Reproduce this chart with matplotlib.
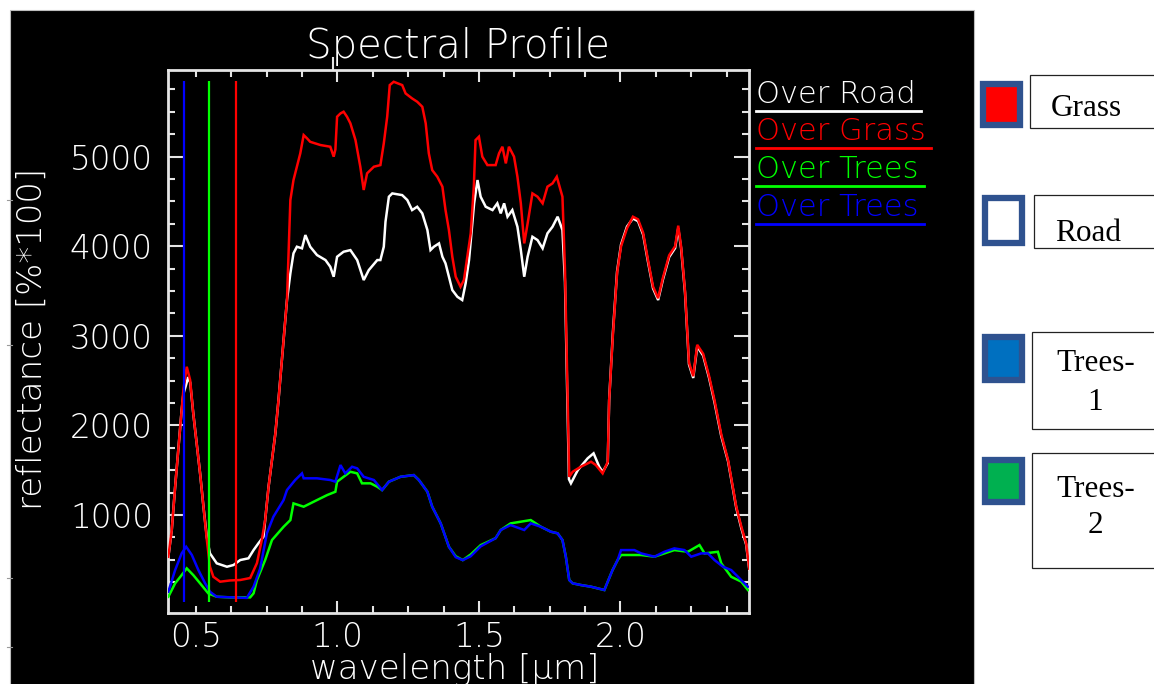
import matplotlib
matplotlib.use("Agg")
import matplotlib.pyplot as plt
from matplotlib.patches import Rectangle
from matplotlib.ticker import FixedLocator
from matplotlib.transforms import blended_transform_factory
import numpy as np

W, H, DPI = 1154, 684, 100

# ---------------- data (wavelength in um, reflectance in %*100) ----------------
road_wl = [0.403, 0.415, 0.427, 0.438, 0.450, 0.456, 0.468, 0.473, 0.480, 0.491, 0.503, 0.515,
           0.527, 0.539, 0.550, 0.574, 0.610, 0.633, 0.657, 0.686, 0.704, 0.721, 0.739, 0.757,
           0.769, 0.781, 0.792, 0.804, 0.816, 0.822, 0.834, 0.845, 0.857, 0.875, 0.887, 0.904,
           0.928, 0.958, 0.975, 0.987, 0.999, 1.022, 1.046, 1.070, 1.093, 1.111, 1.141, 1.152,
           1.164, 1.170, 1.182, 1.194, 1.229, 1.247, 1.264, 1.282, 1.300, 1.318, 1.329, 1.341,
           1.359, 1.371, 1.382, 1.394, 1.406, 1.424, 1.441, 1.453, 1.465, 1.483, 1.495, 1.506,
           1.524, 1.548, 1.565, 1.577, 1.589, 1.601, 1.618, 1.636, 1.648, 1.660, 1.672, 1.689,
           1.707, 1.725, 1.742, 1.760, 1.778, 1.795, 1.804, 1.818, 1.825, 1.849, 1.884, 1.905,
           1.925, 1.937, 1.955, 1.960, 1.973, 1.988, 2.002, 2.023, 2.044, 2.062, 2.080, 2.097,
           2.115, 2.133, 2.150, 2.172, 2.193, 2.204, 2.214, 2.228, 2.242, 2.257, 2.271, 2.292,
           2.313, 2.332, 2.356, 2.380, 2.409, 2.427, 2.444, 2.455]
road_val = [534, 832, 1316, 1725, 2172, 2350, 2480, 2540, 2480, 2135, 1800, 1468,
            1093, 750, 572, 461, 423, 442, 498, 517, 609, 684, 758, 1316,
            1614, 1912, 2283, 2730, 3176, 3400, 3698, 3921, 3995, 3977, 4125, 3995,
            3902, 3846, 3771, 3660, 3883, 3939, 3957, 3846, 3623, 3734, 3846, 3846,
            3995, 4274, 4553, 4590, 4571, 4516, 4404, 4441, 4367, 4181, 3958, 3995,
            4032, 3883, 3809, 3660, 3511, 3436, 3400, 3586, 3846, 4479, 4739, 4553,
            4441, 4404, 4479, 4367, 4479, 4330, 4404, 4218, 3958, 3660, 3883, 4106,
            4069, 3977, 4144, 4218, 4330, 4181, 3600, 1400, 1354, 1500, 1633, 1689,
            1539, 1480, 1580, 2283, 3030, 3720, 4020, 4220, 4310, 4280, 4130, 3830,
            3530, 3400, 3630, 3880, 3980, 4200, 3980, 3480, 2680, 2530, 2880, 2780,
            2530, 2260, 1880, 1600, 1080, 850, 670, 390]

grass_wl = [0.403, 0.415, 0.427, 0.438, 0.450, 0.456, 0.468, 0.480, 0.491, 0.503, 0.515, 0.527,
            0.539, 0.550, 0.562, 0.586, 0.621, 0.657, 0.692, 0.716, 0.733, 0.745, 0.757, 0.769,
            0.781, 0.792, 0.804, 0.816, 0.822, 0.834, 0.845, 0.857, 0.869, 0.881, 0.893, 0.904,
            0.940, 0.975, 0.987, 0.993, 0.999, 1.011, 1.022, 1.034, 1.046, 1.064, 1.081, 1.093,
            1.105, 1.129, 1.152, 1.164, 1.176, 1.185, 1.199, 1.229, 1.241, 1.264, 1.282, 1.300,
            1.312, 1.323, 1.335, 1.353, 1.371, 1.382, 1.394, 1.406, 1.418, 1.435, 1.447, 1.459,
            1.471, 1.482, 1.488, 1.500, 1.512, 1.530, 1.559, 1.571, 1.583, 1.595, 1.606, 1.624,
            1.636, 1.648, 1.660, 1.672, 1.689, 1.707, 1.725, 1.742, 1.760, 1.775, 1.795, 1.804,
            1.819, 1.831, 1.860, 1.896, 1.913, 1.937, 1.955, 1.960, 1.973, 1.988, 2.002, 2.023,
            2.044, 2.062, 2.080, 2.097, 2.115, 2.133, 2.150, 2.172, 2.193, 2.204, 2.214, 2.228,
            2.242, 2.257, 2.271, 2.292, 2.313, 2.332, 2.356, 2.380, 2.409, 2.427, 2.444, 2.455]
grass_val = [534, 832, 1316, 1725, 2172, 2395, 2655, 2507, 2135, 1800, 1468, 1093,
             721, 423, 311, 256, 270, 275, 297, 464, 721, 944, 1316, 1614,
             1912, 2283, 2730, 3176, 3400, 4516, 4739, 4888, 5037, 5241, 5204, 5166,
             5130, 5111, 5000, 5080, 5446, 5483, 5502, 5446, 5372, 5185, 4888, 4628,
             4814, 4888, 4906, 5149, 5446, 5799, 5836, 5799, 5706, 5650, 5613, 5557,
             5372, 5037, 4850, 4776, 4665, 4404, 4181, 3883, 3660, 3548, 3623, 3883,
             4144, 4665, 5185, 5223, 5000, 4906, 4906, 5037, 5111, 4925, 5111, 5000,
             4776, 4479, 4032, 4255, 4590, 4553, 4479, 4665, 4702, 4776, 4553, 3734,
             1427, 1483, 1539, 1595, 1558, 1465, 1595, 2283, 3000, 3700, 4000, 4200,
             4330, 4300, 4150, 3850, 3550, 3420, 3650, 3900, 4000, 4230, 4000, 3500,
             2700, 2550, 2900, 2800, 2550, 2283, 1900, 1614, 1093, 869, 684, 400]

trees2_wl = [0.403, 0.427, 0.450, 0.468, 0.491, 0.515, 0.544, 0.574, 0.621, 0.692, 0.704, 0.716,
             0.745, 0.769, 0.810, 0.834, 0.845, 0.881, 0.928, 0.964, 0.993, 0.999, 1.022, 1.046,
             1.070, 1.087, 1.117, 1.141, 1.158, 1.182, 1.223, 1.270, 1.288, 1.318, 1.335, 1.365,
             1.394, 1.418, 1.443, 1.471, 1.506, 1.559, 1.577, 1.612, 1.683, 1.719, 1.754, 1.778,
             1.795, 1.807, 1.819, 1.831, 1.860, 1.896, 1.943, 1.955, 1.972, 1.990, 2.002, 2.073,
             2.120, 2.190, 2.238, 2.279, 2.297, 2.344, 2.356, 2.391, 2.427, 2.450]
trees2_val = [88, 238, 330, 405, 330, 238, 126, 88, 81, 81, 126, 275,
              498, 721, 869, 944, 1130, 1093, 1167, 1223, 1260, 1372, 1427, 1483,
              1465, 1354, 1354, 1316, 1279, 1372, 1427, 1446, 1391, 1260, 1093, 907,
              646, 540, 497, 560, 664, 742, 833, 907, 944, 869, 814, 796,
              721, 535, 275, 238, 219, 200, 163, 256, 386, 498, 554, 554,
              535, 609, 590, 665, 572, 590, 461, 311, 256, 163]

trees1_wl = [0.403, 0.427, 0.450, 0.466, 0.486, 0.509, 0.533, 0.550, 0.574, 0.680, 0.704, 0.727,
             0.751, 0.774, 0.810, 0.822, 0.851, 0.875, 0.881, 0.928, 0.975, 0.993, 1.011, 1.028,
             1.052, 1.070, 1.093, 1.129, 1.158, 1.182, 1.223, 1.270, 1.288, 1.318, 1.335, 1.365,
             1.394, 1.418, 1.443, 1.471, 1.506, 1.559, 1.577, 1.612, 1.660, 1.683, 1.719, 1.754,
             1.778, 1.795, 1.807, 1.819, 1.831, 1.860, 1.896, 1.943, 1.955, 1.972, 1.990, 2.002,
             2.049, 2.073, 2.096, 2.120, 2.155, 2.190, 2.226, 2.250, 2.285, 2.309, 2.332, 2.362,
             2.391, 2.415, 2.450]
trees1_val = [144, 386, 572, 646, 554, 386, 238, 144, 88, 75, 200, 400,
              796, 981, 1167, 1279, 1391, 1465, 1410, 1410, 1391, 1372, 1558, 1465,
              1539, 1521, 1427, 1391, 1279, 1372, 1427, 1446, 1391, 1260, 1093, 907,
              646, 530, 497, 540, 650, 742, 833, 888, 833, 907, 869, 814,
              796, 721, 535, 275, 238, 219, 200, 163, 256, 386, 498, 609,
              609, 572, 554, 535, 590, 628, 609, 535, 572, 572, 498, 423,
              386, 311, 200]

marker_wl = [0.460, 0.547, 0.641]
marker_colors = ["#0000ff", "#00ff00", "#ff0000"]

legend_labels = ["Over Road", "Over Grass", "Over Trees", "Over Trees"]
series_colors = ["#ffffff", "#ff0000", "#00ff00", "#0000ff"]

x_major = [0.5, 1.0, 1.5, 2.0]
x_labels = ["0.5", "1.0", "1.5", "2.0"]
y_major = [1000, 2000, 3000, 4000, 5000]
y_labels = ["1000", "2000", "3000", "4000", "5000"]

panel_lines = [["Grass"], ["Road"], ["Trees-", "1"], ["Trees-", "2"]]
panel_fills = ["#ff0000", "#ffffff", "#0070c0", "#00b050"]

# ---------------- figure ----------------
FONT = ["DejaVu Sans"]
plt.rcParams["font.family"] = FONT
plt.rcParams["font.weight"] = 200
plt.rcParams["axes.titleweight"] = 200
plt.rcParams["axes.labelweight"] = 200

fig = plt.figure(figsize=(W / DPI, H / DPI), dpi=DPI, facecolor="white")

# background / decoration layer in pixel coordinates
bg = fig.add_axes([0, 0, 1, 1], zorder=0)
bg.set_xlim(0, W)
bg.set_ylim(H, 0)
bg.axis("off")
bg.add_patch(Rectangle((9.5, 9.5), 964.5, 690, facecolor="black",
                       edgecolor="#bdbdbd", lw=0.8))
for yy in (200, 345, 578, 647):
    bg.plot([7, 12], [yy, yy], color="#9a9a9a", lw=0.8)

# main plot
L, R, T, B = 167.5, 749.3, 69.5, 612.7
ax = fig.add_axes([L / W, 1 - B / H, (R - L) / W, (B - T) / H], zorder=2)
ax.set_facecolor("black")
ax.set_xlim(0.4, 2.455)
ax.set_ylim(-90, 5973)

fg = "#e4e4e4"
for s in ax.spines.values():
    s.set_color(fg)
    s.set_linewidth(2.0)

ax.xaxis.set_major_locator(FixedLocator(x_major))
ax.set_xticklabels(x_labels)
ax.xaxis.set_minor_locator(FixedLocator(np.arange(0.625, 2.45, 0.125)))
ax.yaxis.set_major_locator(FixedLocator(y_major))
ax.set_yticklabels(y_labels)
ax.yaxis.set_minor_locator(FixedLocator(np.arange(250, 5800, 250)))

ax.tick_params(which="both", direction="in", top=True, right=True,
               color=fg, width=1.5, labelcolor="white", labelsize=23.5)
ax.tick_params(axis="x", which="major", length=8.6, pad=6.0)
ax.tick_params(axis="y", which="major", length=10.5, pad=10.5)
ax.tick_params(which="minor", length=5)
for tk in ax.xaxis.get_major_ticks()[:1]:
    tk.tick1line.set_markersize(5)
    tk.tick2line.set_markersize(5)

series = [(road_wl, road_val), (grass_wl, grass_val),
          (trees2_wl, trees2_val), (trees1_wl, trees1_val)]
for i, ((wl, val), col) in enumerate(zip(series, series_colors)):
    ax.plot(wl, val, color=col, lw=1.8, zorder=3 + i, solid_joinstyle="miter")

all_vals = np.concatenate([np.asarray(v) for _, v in series])
ax.vlines(marker_wl, all_vals.min() - 40, all_vals.max() + 10, colors=marker_colors,
          lw=1.6, zorder=8)

ax.set_title("Spectral Profile", fontsize=29, color="white", pad=8.3, fontweight=200)
trans = blended_transform_factory(ax.transData, ax.transAxes)
ax.plot([0.986, 0.986], [1.0, 1.0 + 12 / (B - T)], transform=trans,
        color=fg, lw=1.5, clip_on=False)

ax.set_xlabel("wavelength [\u00b5m]", fontsize=24.5, color="white", fontweight=200)
ax.xaxis.set_label_coords((455 - L) / (R - L), (B - 679) / (B - T))
ax.xaxis.label.set_va("baseline")
ax.set_ylabel("reflectance [%*100]", fontsize=24.5, color="white", fontweight=200)
ax.yaxis.set_label_coords((32 - L) / (R - L), (B - 339) / (B - T))
ax.yaxis.label.set_va("center")

# IDL-style legend to the right of the frame
base_px = [103, 140.5, 178, 216.5]
texts = []
for lab, col, by in zip(legend_labels, series_colors, base_px):
    t = ax.text((756 - L) / (R - L), (B - by) / (B - T), lab, transform=ax.transAxes,
                color=col, fontsize=22, ha="left", va="baseline", fontweight=200)
    texts.append((t, col, by))
fig.canvas.draw()
rend = fig.canvas.get_renderer()
for t, col, by in texts:
    bb = t.get_window_extent(rend)
    x0 = (756 - L) / (R - L)
    x1 = (bb.x1 - L + 5) / (R - L)
    yl = (B - (by + 7.5)) / (B - T)
    ax.plot([x0, x1], [yl, yl], transform=ax.transAxes, color=col, lw=2.0,
            clip_on=False)

# right-hand annotation panel (white area)
squares = [(979.5, 80.5, 1023.5, 128.5), (981.5, 195, 1025.5, 246.5),
           (981.5, 334, 1025.5, 383.5), (981.5, 456.5, 1025.5, 505)]
boxes = [(1030, 75, 128.3), (1034, 195, 248.3), (1031.7, 331.7, 429.3), (1031.7, 453.3, 568.3)]
text_pos = [[(1086, 116)], [(1088, 241)], [(1096, 371), (1095, 410)],
            [(1096, 497), (1095, 533)]]
bw = 6.3
for (x0, y0, x1, y1), fill, (bx, by0, by1), lines, poss in zip(
        squares, panel_fills, boxes, panel_lines, text_pos):
    bg.add_patch(Rectangle((x0 + bw / 2, y0 + bw / 2), x1 - x0 - bw, y1 - y0 - bw,
                           facecolor=fill, edgecolor="#2f528f", lw=bw * 72 / DPI))
    bg.add_patch(Rectangle((bx, by0), 1200 - bx, by1 - by0, facecolor="white",
                           edgecolor="#222222", lw=0.9))
    for ln, (tx, ty) in zip(lines, poss):
        bg.text(tx, ty, ln, fontsize=22.5, family=["Liberation Serif", "DejaVu Serif"],
                weight="normal", color="black", ha="center", va="baseline")

fig.savefig("out.png", dpi=DPI, facecolor="white")
